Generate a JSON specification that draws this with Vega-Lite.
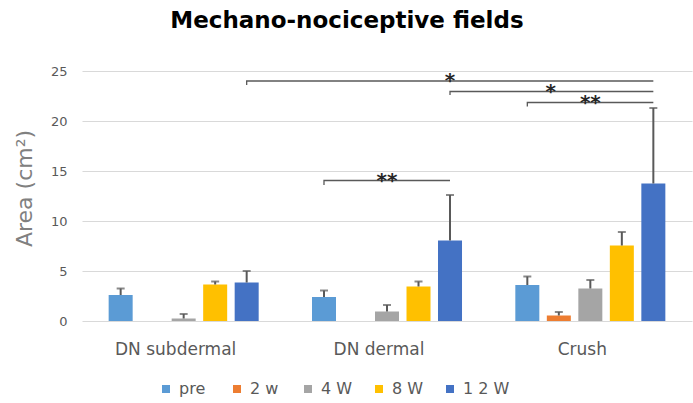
{
  "$schema": "https://vega.github.io/schema/vega-lite/v6.json",
  "width": 610,
  "height": 250,
  "autosize": {"type": "none"},
  "padding": {"left": 82, "top": 71, "right": 1, "bottom": 82},
  "background": "white",
  "title": {
    "text": "Mechano-nociceptive fields",
    "fontSize": 23,
    "fontWeight": "bold",
    "font": "DejaVu Sans",
    "color": "#000000",
    "anchor": "middle",
    "dx": -40,
    "offset": 32
  },
  "config": {
    "view": {"stroke": null},
    "font": "DejaVu Sans"
  },
  "datasets": {
    "bars": [
      {"group": "DN subdermal", "series": "pre", "value": 2.6, "hi": 3.25},
      {"group": "DN subdermal", "series": "2 w", "value": 0, "hi": 0},
      {"group": "DN subdermal", "series": "4 W", "value": 0.25, "hi": 0.7},
      {"group": "DN subdermal", "series": "8 W", "value": 3.65, "hi": 3.95},
      {"group": "DN subdermal", "series": "1 2 W", "value": 3.85, "hi": 5.0},
      {"group": "DN dermal", "series": "pre", "value": 2.4, "hi": 3.05},
      {"group": "DN dermal", "series": "2 w", "value": 0, "hi": 0},
      {"group": "DN dermal", "series": "4 W", "value": 0.95, "hi": 1.6},
      {"group": "DN dermal", "series": "8 W", "value": 3.45, "hi": 3.95},
      {"group": "DN dermal", "series": "1 2 W", "value": 8.05, "hi": 12.6},
      {"group": "Crush", "series": "pre", "value": 3.6, "hi": 4.45},
      {"group": "Crush", "series": "2 w", "value": 0.55, "hi": 0.9},
      {"group": "Crush", "series": "4 W", "value": 3.25, "hi": 4.1},
      {"group": "Crush", "series": "8 W", "value": 7.55, "hi": 8.9},
      {"group": "Crush", "series": "1 2 W", "value": 13.75, "hi": 21.3}
    ],
    "brackets": [
      {"bid": 1, "pt": 1, "group": "DN subdermal", "series": "1 2 W", "y": 23.6},
      {"bid": 1, "pt": 2, "group": "DN subdermal", "series": "1 2 W", "y": 24.0},
      {"bid": 1, "pt": 3, "group": "Crush", "series": "1 2 W", "y": 24.0},
      {"bid": 2, "pt": 1, "group": "DN dermal", "series": "1 2 W", "y": 22.6},
      {"bid": 2, "pt": 2, "group": "DN dermal", "series": "1 2 W", "y": 22.95},
      {"bid": 2, "pt": 3, "group": "Crush", "series": "1 2 W", "y": 22.95},
      {"bid": 3, "pt": 1, "group": "Crush", "series": "pre", "y": 21.45},
      {"bid": 3, "pt": 2, "group": "Crush", "series": "pre", "y": 21.85},
      {"bid": 3, "pt": 3, "group": "Crush", "series": "1 2 W", "y": 21.85},
      {"bid": 4, "pt": 1, "group": "DN dermal", "series": "pre", "y": 13.6},
      {"bid": 4, "pt": 2, "group": "DN dermal", "series": "pre", "y": 14.05},
      {"bid": 4, "pt": 3, "group": "DN dermal", "series": "1 2 W", "y": 14.05}
    ],
    "stars": [
      {"sid": 1, "group": "DN dermal", "series": "1 2 W", "y": 24.0, "label": "*"},
      {"sid": 2, "group": "Crush", "series": "2 w", "y": 22.95, "label": "*"},
      {"sid": 3, "group": "Crush", "series": "4 W", "y": 21.85, "label": "**"},
      {"sid": 4, "group": "DN dermal", "series": "4 W", "y": 14.05, "label": "**"}
    ]
  },
  "encoding": {
    "x": {
      "field": "group",
      "type": "nominal",
      "sort": ["DN subdermal", "DN dermal", "Crush"],
      "scale": {"paddingInner": 0, "paddingOuter": 0},
      "axis": {
        "title": null,
        "domain": false,
        "ticks": false,
        "labelAngle": 0,
        "labelFontSize": 17,
        "labelColor": "#595959",
        "labelPadding": 20,
        "labelOffset": -8
      }
    },
    "xOffset": {
      "field": "series",
      "type": "nominal",
      "sort": ["pre", "2 w", "4 W", "8 W", "1 2 W"],
      "scale": {"paddingInner": 0.238, "paddingOuter": 0.846}
    }
  },
  "layer": [
    {
      "data": {"name": "bars"},
      "mark": {"type": "bar"},
      "encoding": {
        "y": {
          "field": "value",
          "type": "quantitative",
          "scale": {"domain": [0, 25], "nice": false},
          "axis": {
            "title": "Area (cm²)",
            "titleFontSize": 22,
            "titleFontWeight": "normal",
            "titleColor": "#808080",
            "titlePadding": 14,
            "titleY": 117,
            "values": [0, 5, 10, 15, 20, 25],
            "domain": false,
            "ticks": false,
            "labelFontSize": 13,
            "labelColor": "#595959",
            "labelPadding": 15,
            "gridColor": "#d9d9d9",
            "gridWidth": 1.2
          }
        },
        "color": {
          "field": "series",
          "type": "nominal",
          "sort": ["pre", "2 w", "4 W", "8 W", "1 2 W"],
          "scale": {
            "domain": ["pre", "2 w", "4 W", "8 W", "1 2 W"],
            "range": ["#5B9BD5", "#ED7D31", "#A5A5A5", "#FFC000", "#4472C4"]
          },
          "legend": {
            "title": null,
            "orient": "none",
            "legendX": 76,
            "legendY": 310,
            "direction": "horizontal",
            "columns": 5,
            "gridAlign": "all",
            "columnPadding": 3,
            "symbolType": "square",
            "symbolSize": 64,
            "symbolStrokeWidth": 0,
            "labelFontSize": 16,
            "labelColor": "#595959",
            "labelOffset": 5
          }
        }
      }
    },
    {
      "data": {"name": "bars"},
      "transform": [{"filter": "datum.hi > datum.value"}],
      "mark": {"type": "rule", "color": "#595959", "strokeWidth": 2},
      "encoding": {
        "y": {"field": "value", "type": "quantitative", "scale": {"domain": [0, 25], "nice": false}},
        "y2": {"field": "hi"}
      }
    },
    {
      "data": {"name": "bars"},
      "transform": [{"filter": "datum.hi > datum.value"}],
      "mark": {"type": "tick", "color": "#595959", "thickness": 2, "size": 8, "orient": "horizontal"},
      "encoding": {
        "y": {"field": "hi", "type": "quantitative", "scale": {"domain": [0, 25], "nice": false}}
      }
    },
    {
      "data": {"name": "brackets"},
      "mark": {"type": "line", "color": "#595959", "strokeWidth": 1.3, "interpolate": "linear"},
      "encoding": {
        "y": {"field": "y", "type": "quantitative", "scale": {"domain": [0, 25], "nice": false}},
        "detail": {"field": "bid", "type": "nominal"},
        "order": {"field": "pt", "type": "quantitative"}
      }
    },
    {
      "data": {"name": "stars"},
      "transform": [{"filter": "datum.sid != 2"}],
      "mark": {"type": "text", "fontSize": 20, "fontWeight": "bold", "color": "#262626", "baseline": "middle", "dy": 0},
      "encoding": {
        "y": {"field": "y", "type": "quantitative", "scale": {"domain": [0, 25], "nice": false}},
        "text": {"field": "label"}
      }
    },
    {
      "data": {"name": "stars"},
      "transform": [{"filter": "datum.sid == 2"}],
      "mark": {"type": "text", "fontSize": 20, "fontWeight": "bold", "color": "#262626", "baseline": "middle", "dy": 0, "dx": -8},
      "encoding": {
        "y": {"field": "y", "type": "quantitative", "scale": {"domain": [0, 25], "nice": false}},
        "text": {"field": "label"}
      }
    }
  ]
}
